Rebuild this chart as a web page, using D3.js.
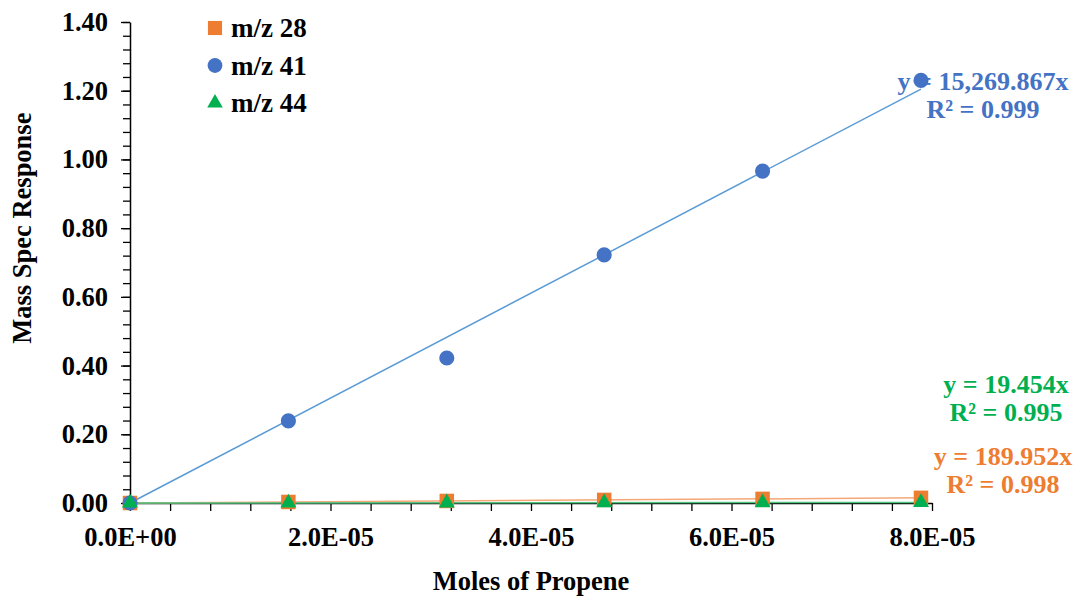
<!DOCTYPE html>
<html>
<head>
<meta charset="utf-8">
<script src="https://cdn.jsdelivr.net/npm/d3@7"></script>
<style>
  body { margin: 0; background: #fff; }
  text { font-family: "Liberation Serif", "Times New Roman", serif; font-weight: bold; }
</style>
</head>
<body>
<div id="viz"></div>
<script>
// data
const moles = [0, 1.58e-5, 3.16e-5, 4.73e-5, 6.31e-5, 7.89e-5];
const mz28 = [0, 0.003, 0.006, 0.009, 0.012, 0.015];
const mz41 = [0, 0.239, 0.422, 0.722, 0.966, 1.23];
const mz44 = [0, 0.0003, 0.0006, 0.0009, 0.0012, 0.0015];

const seriesNames = ["m/z 28", "m/z 41", "m/z 44"];
const slopes = [189.952, 15269.867, 19.454];
const slopeLabels = ["189.952", "15,269.867", "19.454"];
const r2Labels = ["0.998", "0.999", "0.995"];

const yTicks = [0, 0.2, 0.4, 0.6, 0.8, 1.0, 1.2, 1.4];
const xTicks = [0, 2e-5, 4e-5, 6e-5, 8e-5];

const margin = {top: 22, right: 150, bottom: 95, left: 130},
    width = 1082 - margin.left - margin.right,
    height = 598 - margin.top - margin.bottom;

const svg = d3.select("#viz")
    .append("svg")
    .attr("width", width + margin.left + margin.right)
    .attr("height", height + margin.top + margin.bottom)
    .append("g")
    .attr("transform", "translate(" + margin.left + "," + margin.top + ")");

const xScale = d3.scaleLinear().domain([0, 8e-5]).range([0, width]);
const yScale = d3.scaleLinear().domain([0, 1.4]).range([height, 0]);

const colors = ["#ed7d31", "#4472c4", "#00b050"];
const lineColors = ["#f4a877", "#5b9bd5", "#4fc47f"];
const shapes = [d3.symbolSquare, d3.symbolCircle, d3.symbolTriangle];
const sizes = [210, 180, 110];

const series = seriesNames.map((name, i) => ({
    name: name,
    values: moles.map((m, j) => ({x: m, y: [mz28, mz41, mz44][i][j]}))
}));

function sciFormat(d) {
    const parts = d.toExponential(1).split("e");
    const exp = parseInt(parts[1], 10);
    const sign = exp < 0 ? "-" : "+";
    return parts[0] + "E" + sign + String(Math.abs(exp)).padStart(2, "0");
}

// y axis: minor ticks then major
svg.append("g")
    .call(d3.axisLeft(yScale).tickValues(d3.range(0, 36).map(i => i * 0.04)).tickSize(7).tickSizeOuter(0).tickFormat(""))
    .call(g => g.select(".domain").remove());

const yAxis = svg.append("g")
    .call(d3.axisLeft(yScale).tickValues(yTicks).tickSize(9).tickSizeOuter(0).tickFormat(d3.format(".2f")));
yAxis.selectAll("text").attr("font-size", 26.5).attr("x", -22).attr("fill", "#000");
yAxis.select(".domain").attr("stroke-width", 1.5);

// x axis
const xAxis = svg.append("g")
    .attr("transform", "translate(0," + height + ")")
    .call(d3.axisBottom(xScale)
        .tickValues(d3.range(0, 21).map(i => i * 0.4e-5))
        .tickSize(8).tickSizeOuter(0)
        .tickFormat((d, i) => i % 5 === 0 ? sciFormat(d) : ""));
xAxis.selectAll("text").attr("font-size", 26.5).attr("y", 24).attr("fill", "#000");
xAxis.select(".domain").attr("stroke-width", 1.5);
svg.selectAll(".tick line").attr("stroke-width", 1.3);

// trendlines through origin
series.forEach((s, i) => {
    const xMax = d3.max(moles);
    svg.append("line")
        .attr("x1", xScale(0)).attr("y1", yScale(0))
        .attr("x2", xScale(xMax)).attr("y2", yScale(slopes[i] * xMax))
        .attr("stroke", lineColors[i])
        .attr("stroke-width", 1.5);
});

// markers
series.forEach((s, i) => {
    svg.selectAll(".pt" + i)
        .data(s.values)
        .enter().append("path")
        .attr("class", "pt" + i)
        .attr("transform", d => "translate(" + xScale(d.x) + "," + yScale(d.y) + ")")
        .attr("d", d3.symbol().type(shapes[i]).size(sizes[i]))
        .attr("fill", colors[i]);
});

// trendline labels
const labelPos = [{x: 873, y: 443}, {x: 853, y: 68}, {x: 876, y: 371}];
series.forEach((s, i) => {
    const t = svg.append("text")
        .attr("text-anchor", "middle")
        .attr("font-size", 26)
        .attr("fill", colors[i]);
    t.append("tspan").attr("x", labelPos[i].x).attr("y", labelPos[i].y)
        .text("y = " + slopeLabels[i] + "x");
    t.append("tspan").attr("x", labelPos[i].x).attr("y", labelPos[i].y + 28)
        .text("R\u00b2 = " + r2Labels[i]);
});

// legend
const legend = svg.selectAll(".legend")
    .data(series)
    .enter().append("g")
    .attr("class", "legend")
    .attr("transform", (d, i) => "translate(85," + (6 + i * 37.5) + ")");
legend.append("path")
    .attr("d", (d, i) => d3.symbol().type(shapes[i]).size(sizes[i] * 0.95)())
    .attr("fill", (d, i) => colors[i]);
legend.append("text")
    .attr("x", 16)
    .attr("dy", "0.35em")
    .attr("font-size", 27)
    .text(d => d.name);

// axis titles
svg.append("text")
    .attr("x", width / 2 - 0)
    .attr("y", height + 87)
    .attr("text-anchor", "middle")
    .attr("font-size", 26.5)
    .text("Moles of Propene");

svg.append("text")
    .attr("transform", "translate(-99," + (yScale(0.8)) + ") rotate(-90)")
    .attr("text-anchor", "middle")
    .attr("font-size", 26.5)
    .text("Mass Spec Response");
</script>
</body>
</html>
